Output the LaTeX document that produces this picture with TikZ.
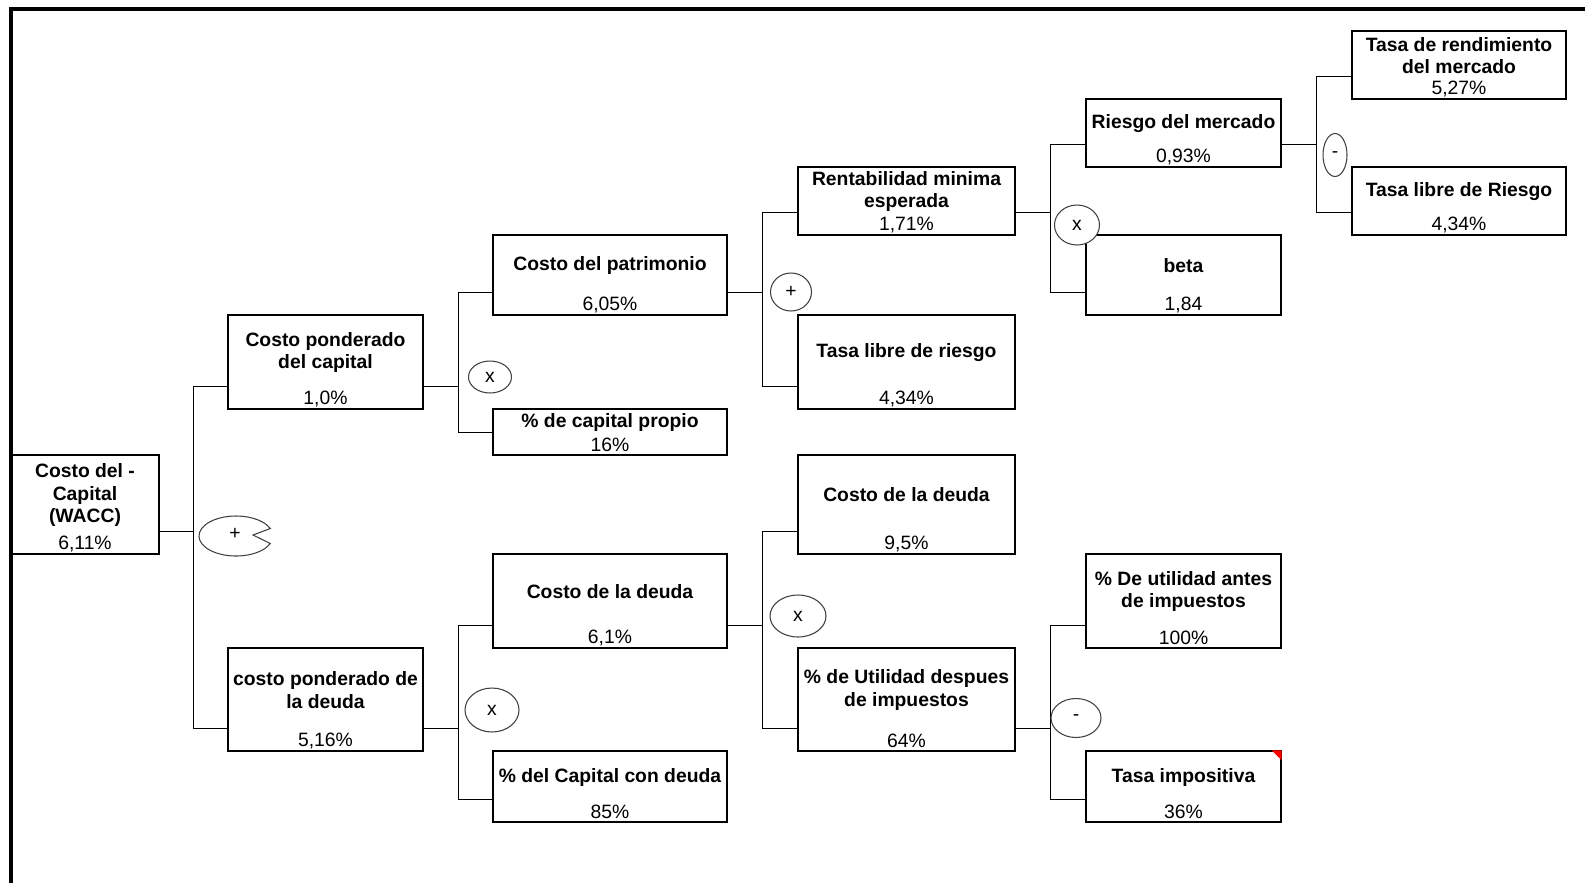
\documentclass[tikz,border=0pt]{standalone}
\usepackage{fontspec}
\setmainfont{Liberation Sans}
\usetikzlibrary{positioning,shapes.geometric,calc,fit}

\begin{document}
\begin{tikzpicture}[x=0.02cm,y=-0.02cm,
    caja/.style={draw,line width=0.8pt,inner sep=0pt},
    tit/.style={font=\fontsize{11}{12.8}\selectfont\bfseries,align=center,inner sep=0pt},
    val/.style={font=\fontsize{11}{12.8}\selectfont,inner sep=0pt},
    op/.style={ellipse,draw=black!75,fill=white,line width=0.6pt,inner sep=0pt,font=\fontsize{11}{12.8}\selectfont},
    rama/.style={line width=0.6pt}]
    \useasboundingbox (0,0) rectangle (1585,883);
    % marco
    \draw[line width=2pt] (11,883) -- (11,9) -- (1585,9);
    % nivel 1
    \node[caja,fit={(11,455)(159,554)}] (wacc) {};
    \node[tit] (wacc-t) at ($(wacc.center)+(0,-9.5)$) {Costo del -\\Capital\\(WACC)};
    \node[val] (wacc-v) at ($(wacc.south)+(0,-11)$) {6,11\%};
    % nivel 2
    \node[caja,fit={(228,315)(423,409)}] (cpc) {};
    \node[tit] (cpc-t) at ($(cpc.center)+(0,-9.5)$) {Costo ponderado\\del capital};
    \node[val] (cpc-v) at ($(cpc.south)+(0,-11)$) {1,0\%};
    \node[caja,fit={(228,648)(423,751)}] (cpd) {};
    \node[tit] (cpd-t) at ($(cpd.center)+(0,-9.5)$) {costo ponderado de\\la deuda};
    \node[val] (cpd-v) at ($(cpd.south)+(0,-11)$) {5,16\%};
    % nivel 3
    \node[caja,fit={(493,235)(727,315)}] (cpat) {};
    \node[tit] (cpat-t) at ($(cpat.center)+(0,-9.5)$) {Costo del patrimonio};
    \node[val] (cpat-v) at ($(cpat.south)+(0,-11)$) {6,05\%};
    \node[caja,fit={(493,409)(727,455)}] (pcp) {};
    \node[tit] (pcp-t) at ($(pcp.center)+(0,-9.5)$) {\% de capital propio};
    \node[val] (pcp-v) at ($(pcp.south)+(0,-11)$) {16\%};
    \node[caja,fit={(493,554)(727,648)}] (cdd) {};
    \node[tit] (cdd-t) at ($(cdd.center)+(0,-9.5)$) {Costo de la deuda};
    \node[val] (cdd-v) at ($(cdd.south)+(0,-11)$) {6,1\%};
    \node[caja,fit={(493,751)(727,822)}] (pcd) {};
    \node[tit] (pcd-t) at ($(pcd.center)+(0,-9.5)$) {\% del Capital con deuda};
    \node[val] (pcd-v) at ($(pcd.south)+(0,-11)$) {85\%};
    % nivel 4
    \node[caja,fit={(798,167)(1015,235)}] (rme) {};
    \node[tit] (rme-t) at ($(rme.center)+(0,-9.5)$) {Rentabilidad minima\\esperada};
    \node[val] (rme-v) at ($(rme.south)+(0,-11)$) {1,71\%};
    \node[caja,fit={(798,315)(1015,409)}] (tlr) {};
    \node[tit] (tlr-t) at ($(tlr.center)+(0,-9.5)$) {Tasa libre de riesgo};
    \node[val] (tlr-v) at ($(tlr.south)+(0,-11)$) {4,34\%};
    \node[caja,fit={(798,455)(1015,554)}] (cdd2) {};
    \node[tit] (cdd2-t) at ($(cdd2.center)+(0,-9.5)$) {Costo de la deuda};
    \node[val] (cdd2-v) at ($(cdd2.south)+(0,-11)$) {9,5\%};
    \node[caja,fit={(798,648)(1015,751)}] (pud) {};
    \node[tit] (pud-t) at ($(pud.center)+(0,-9.5)$) {\% de Utilidad despues\\de impuestos};
    \node[val] (pud-v) at ($(pud.south)+(0,-11)$) {64\%};
    % nivel 5
    \node[caja,fit={(1086,99)(1281,167)}] (rdm) {};
    \node[tit] (rdm-t) at ($(rdm.center)+(0,-9.5)$) {Riesgo del mercado};
    \node[val] (rdm-v) at ($(rdm.south)+(0,-11)$) {0,93\%};
    \node[caja,fit={(1086,235)(1281,315)}] (beta) {};
    \node[tit] (beta-t) at ($(beta.center)+(0,-9.5)$) {beta};
    \node[val] (beta-v) at ($(beta.south)+(0,-11)$) {1,84};
    \node[caja,fit={(1086,554)(1281,648)}] (pua) {};
    \node[tit] (pua-t) at ($(pua.center)+(0,-9.5)$) {\% De utilidad antes\\de impuestos};
    \node[val] (pua-v) at ($(pua.south)+(0,-11)$) {100\%};
    \node[caja,fit={(1086,751)(1281,822)}] (ti) {};
    \node[tit] (ti-t) at ($(ti.center)+(0,-9.5)$) {Tasa impositiva};
    \node[val] (ti-v) at ($(ti.south)+(0,-11)$) {36\%};
    \fill[red] (ti.north east) -- ++(-10,0) -- ++(10,10) -- cycle;
    % nivel 6
    \node[caja,fit={(1352,31)(1566,99)}] (trm) {};
    \node[tit] (trm-t) at ($(trm.center)+(0,-9.5)$) {Tasa de rendimiento\\del mercado};
    \node[val] (trm-v) at ($(trm.south)+(0,-11)$) {5,27\%};
    \node[caja,fit={(1352,167)(1566,235)}] (tlR) {};
    \node[tit] (tlR-t) at ($(tlR.center)+(0,-9.5)$) {Tasa libre de Riesgo};
    \node[val] (tlR-v) at ($(tlR.south)+(0,-11)$) {4,34\%};
    % ramas
    \draw[rama] ($(wacc.south east)+(0,-23)$) -- ++(34,0) coordinate (b1);
    \draw[rama] ($(cpc.south west)+(0,-23)$) -| (b1) |- ($(cpd.south west)+(0,-23)$);
    \draw[rama] ($(cpc.south east)+(0,-23)$) -- ++(35,0) coordinate (b2);
    \draw[rama] ($(cpat.south west)+(0,-23)$) -| (b2) |- ($(pcp.south west)+(0,-23)$);
    \draw[rama] ($(cpd.south east)+(0,-23)$) -- ++(35,0) coordinate (b3);
    \draw[rama] ($(cdd.south west)+(0,-23)$) -| (b3) |- ($(pcd.south west)+(0,-23)$);
    \draw[rama] ($(cpat.south east)+(0,-23)$) -- ++(35,0) coordinate (b4);
    \draw[rama] ($(rme.south west)+(0,-23)$) -| (b4) |- ($(tlr.south west)+(0,-23)$);
    \draw[rama] ($(cdd.south east)+(0,-23)$) -- ++(35,0) coordinate (b5);
    \draw[rama] ($(cdd2.south west)+(0,-23)$) -| (b5) |- ($(pud.south west)+(0,-23)$);
    \draw[rama] ($(rme.south east)+(0,-23)$) -- ++(35,0) coordinate (b6);
    \draw[rama] ($(rdm.south west)+(0,-23)$) -| (b6) |- ($(beta.south west)+(0,-23)$);
    \draw[rama] ($(pud.south east)+(0,-23)$) -- ++(35,0) coordinate (b7);
    \draw[rama] ($(pua.south west)+(0,-23)$) -| (b7) |- ($(ti.south west)+(0,-23)$);
    \draw[rama] ($(rdm.south east)+(0,-23)$) -- ++(35,0) coordinate (b8);
    \draw[rama] ($(trm.south west)+(0,-23)$) -| (b8) |- ($(tlR.south west)+(0,-23)$);
    % operadores
    \draw[draw=black!75,fill=white,line width=0.6pt] (236,536) ++(22:37 and 20)
        arc[start angle=22,end angle=338,x radius=37,y radius=20] -- (253,535) -- cycle;
    \node[inner sep=0pt,font=\fontsize{11}{12.8}\selectfont] (op1) at (235,534) {+};
    \node[op,minimum width=0.86cm,minimum height=0.64cm] (op2) at (490,377) {x};
    \node[op,minimum width=1.08cm,minimum height=0.88cm] (op3) at (492,710) {x};
    \node[op,minimum width=0.82cm,minimum height=0.76cm] (op4) at (791,292) {+};
    \node[op,minimum width=1.12cm,minimum height=0.84cm] (op5) at (798,616) {x};
    \node[op,minimum width=0.90cm,minimum height=0.80cm] (op6) at (1077,225) {x};
    \node[op,minimum width=1.00cm,minimum height=0.78cm] (op7) at (1076,718) {-};
    \node[op,minimum width=0.48cm,minimum height=0.86cm] (op8) at (1335,155) {-};
\end{tikzpicture}
\end{document}
